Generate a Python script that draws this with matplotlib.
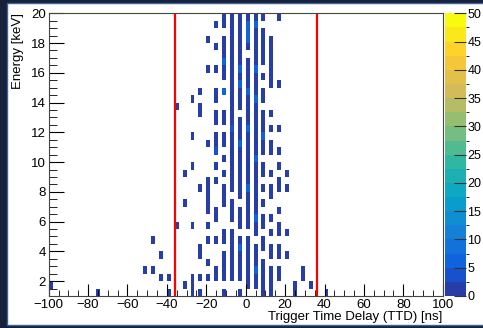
import numpy as np
import matplotlib
matplotlib.use("Agg")
import matplotlib.pyplot as plt
from matplotlib.colors import LinearSegmentedColormap, ListedColormap, BoundaryNorm
from matplotlib.patches import Rectangle

plt.rcParams['font.family'] = ['Liberation Sans', 'DejaVu Sans']

# TTD columns (ns) that hold entries, histogram bins are 2 ns wide
ttd_cols = [-100, -76, -52, -48, -44, -40, -36, -32, -28, -24, -20, -16,
            -12, -8, -4, 0, 4, 8, 12, 16, 20, 24, 28, 32, 40]

# counts per 0.5 keV energy bin, from 1 keV (left) up to 20 keV (right)
col_counts = [
    ".1........" ".........." ".........." "........",  # -100
    "1........." ".........." ".........." "........",  # -76
    "...1......" ".........." ".........." "........",  # -52
    "...1...1.." ".........." ".........." "........",  # -48
    "..1..1...." ".........." ".........." "........",  # -44
    "1.1......." ".........." ".........." "........",  # -40
    ".........1" ".........." ".....1...." "........",  # -36
    ".1........" "..1...1..." ".........." "........",  # -32
    "111......1" ".......1.." ".1....1..." "........",  # -28
    "1.1..11..." "....1....." "....11.1.." "........",  # -24
    "..1.1..1.1" ".11111...." "1........." "1...1...",  # -20
    "..11...1.." "11...1.1.4" "11.11.11.." "1..1..1.",  # -16
    "1.1111.11." "..111.1.1." "11.11..5.1" "15111.11",  # -12
    "..1111111." "111.111111" "1141111111" "11111111",  # -8
    "1.111151.1" "11.1111111" "5111.11151" "51111111",  # -4
    ".1111111.1" "1111511111" "1151111511" "11.15551",  # 0
    ".115111.11" "5111111151" "1111115111" "51111151",  # 4
    "11111.11.1" "1.1.1.11.1" "15111.11.1" ".11111.1",  # 8
    "1111.11.1." "1..11.1..1" "1.1.1...11" "11111...",  # 12
    "..11.11.11" ".1..11.1.1" "..1.....1." ".......1",  # 16
    ".....1..1." "....1.1..." ".........." "........",  # 20
    "11........" ".........." ".........." "........",  # 24
    "..11......" ".........." ".........." "........",  # 28
    ".1........" ".........." ".........." "........",  # 32
    "1........." ".........." ".........." "........",  # 40
]

cut_lo, cut_hi = -36, 36
z_ticks = [0, 5, 10, 15, 20, 25, 30, 35, 40, 45, 50]

# histogram binning
x_edges = np.arange(-100, 102, 2)
y_edges = np.arange(1.0, 20.5, 0.5)
H = np.zeros((len(y_edges) - 1, len(x_edges) - 1))
for t, s in zip(ttd_cols, col_counts):
    ix = int((t + 100) // 2)
    for iy, ch in enumerate(s):
        if ch != '.':
            H[iy, ix] = int(ch)
H = np.ma.masked_equal(H, 0)

# ROOT kBird palette, 20 contour levels
stops = [0.0, 0.125, 0.25, 0.375, 0.5, 0.625, 0.75, 0.875, 1.0]
red = [0.2082, 0.0592, 0.0780, 0.0232, 0.1802, 0.5301, 0.8186, 0.9956, 0.9764]
green = [0.1664, 0.3599, 0.5041, 0.6419, 0.7178, 0.7492, 0.7328, 0.7862, 0.9832]
blue = [0.5293, 0.8684, 0.8385, 0.7914, 0.6425, 0.4662, 0.3499, 0.1968, 0.0539]
bird = LinearSegmentedColormap.from_list(
    "bird", [(s, (r, g, b)) for s, r, g, b in zip(stops, red, green, blue)])
cmap = ListedColormap([bird((i + 1) / 20) for i in range(20)])
norm = BoundaryNorm(np.linspace(0, 50, 21), 20)

fig = plt.figure(figsize=(4.83, 3.28), dpi=100)
fig.patch.set_facecolor('#17213a')
fig.patches.append(Rectangle((7 / 483, 3 / 328), 1, 322 / 328, transform=fig.transFigure,
                             facecolor='white', edgecolor='#3d629a', linewidth=1.0, zorder=-5))

ax = fig.add_axes([48.7 / 483, 1 - 296 / 328, 394 / 483, 282.7 / 328])
ax.pcolormesh(x_edges, y_edges, H, cmap=cmap, norm=norm)
ax.axvline(cut_lo, color='#ff0000', linewidth=1.6)
ax.axvline(cut_hi, color='#ff0000', linewidth=1.6)

ax.set_xlim(-100, 100)
ax.set_ylim(1, 20)
ax.set_xticks(np.arange(-100, 101, 20))
ax.set_xticks(np.arange(-100, 101, 5), minor=True)
ax.set_yticks(np.arange(2, 21, 2))
ax.set_yticks(np.arange(1.5, 20.01, 0.5), minor=True)
ax.tick_params(axis='both', which='both', direction='in', labelsize=9.5, top=False, right=False)
ax.tick_params(axis='x', which='major', length=9, pad=2)
ax.tick_params(axis='x', which='minor', length=4.5)
ax.tick_params(axis='y', which='major', length=11, pad=2)
ax.tick_params(axis='y', which='minor', length=5.5)
for sp in ax.spines.values():
    sp.set_linewidth(0.8)
    sp.set_color('#444444')

fig.text(442 / 483, 1 - 317 / 328, "Trigger Time Delay (TTD) [ns]", ha='right', va='center', fontsize=9.5)
fig.text(18 / 483, 1 - 13 / 328, "Energy [keV]", ha='center', va='top', rotation=90, fontsize=9.5)

# colour palette axis
cax = fig.add_axes([445 / 483, 1 - 296 / 328, 21 / 483, 282.7 / 328])
cb = fig.colorbar(plt.cm.ScalarMappable(norm=norm, cmap=cmap), cax=cax, ticks=z_ticks)
cb.outline.set_visible(False)
cax.tick_params(direction='in', length=9, labelsize=9, pad=1, color='#333333')

fig.savefig("out.png", dpi=100, facecolor=fig.get_facecolor())
